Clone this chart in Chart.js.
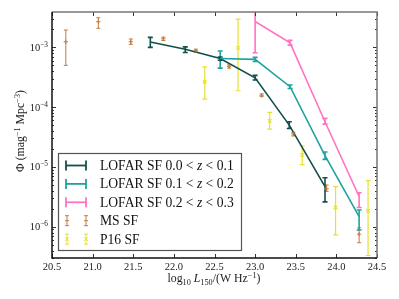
<!DOCTYPE html>
<html>
<head>
<meta charset="utf-8">
<script src="https://cdn.jsdelivr.net/npm/chart.js@4.4.1/dist/chart.umd.min.js"></script>
<style>
  html, body { margin: 0; padding: 0; background: #fff; }
  canvas { display: block; }
</style>
</head>
<body>
<canvas id="lf" width="399" height="299"></canvas>
<script>
// LOFAR SF luminosity functions
const lofar0X = [21.71, 22.14, 22.57, 23.0, 23.42, 23.86];
const lofar0Y = [1.23e-3, 9.3e-4, 6.5e-4, 3.1e-4, 5.0e-5, 4.7e-6];
const lofar0Lo = [1.0e-3, 8.2e-4, 6.1e-4, 2.85e-4, 4.4e-5, 2.6e-6];
const lofar0Hi = [1.47e-3, 1.02e-3, 6.9e-4, 3.4e-4, 5.7e-5, 6.6e-6];

const lofar1X = [22.57, 23.0, 23.43, 23.86, 24.28];
const lofar1Y = [6.5e-4, 6.3e-4, 2.2e-4, 1.54e-5, 1.47e-6];
const lofar1Lo = [4.5e-4, 5.8e-4, 2.05e-4, 1.34e-5, 8.8e-7];
const lofar1Hi = [8.7e-4, 6.8e-4, 2.35e-4, 1.78e-5, 1.9e-6];

const lofar2X = [23.0, 23.43, 23.86, 24.28];
const lofar2Y = [2.7e-3, 1.19e-3, 5.7e-5, 3.2e-6];
const lofar2Lo = [8.1e-4, 1.09e-3, 5.2e-5, 2.1e-6];
const lofar2Hi = [5.0e-3, 1.31e-3, 6.5e-5, 3.7e-6];

// comparison samples
const msX = [20.67, 21.07, 21.47, 21.87, 22.27, 22.68, 23.08, 23.47, 23.88, 24.28];
const msY = [1.24e-3, 2.68e-3, 1.24e-3, 1.39e-3, 8.8e-4, 4.8e-4, 1.58e-4, 3.55e-5, 4.3e-6, 7.5e-7];
const msLo = [5.0e-4, 2.08e-3, 1.12e-3, 1.30e-3, 8.3e-4, 4.5e-4, 1.5e-4, 3.3e-5, 3.9e-6, 5.4e-7];
const msHi = [1.95e-3, 3.13e-3, 1.38e-3, 1.48e-3, 9.3e-4, 5.1e-4, 1.66e-4, 3.8e-5, 5.0e-6, 9.6e-7];

const p16X = [22.38, 22.79, 23.18, 23.58, 23.99, 24.39];
const p16Y = [2.66e-4, 9.8e-4, 5.9e-5, 1.58e-5, 2.1e-6, 1.85e-6];
const p16Lo = [1.36e-4, 1.88e-4, 4.3e-5, 1.09e-5, 7.3e-7, 3.3e-7];
const p16Hi = [4.7e-4, 2.97e-3, 8.2e-5, 2.24e-5, 4.7e-6, 5.9e-6];

const xTicks = [20.5, 21.0, 21.5, 22.0, 22.5, 23.0, 23.5, 24.0, 24.5];
const yDecades = [-3, -4, -5, -6];

const legendRows = [
  { label: ['LOFAR SF 0.0 < ', 'z', ' < 0.1'], kind: 'lofar', color: '#114f4b' },
  { label: ['LOFAR SF 0.1 < ', 'z', ' < 0.2'], kind: 'lofar', color: '#1fa39e' },
  { label: ['LOFAR SF 0.2 < ', 'z', ' < 0.3'], kind: 'lofar', color: '#ff73c0' },
  { label: ['MS SF'], kind: 'ms', color: '#c27b40' },
  { label: ['P16 SF'], kind: 'p16', color: '#e8e033' }
];

const SERIF = '"Liberation Serif", "DejaVu Serif", serif';

const pts = (xs, ys) => xs.map((x, i) => ({ x: x, y: ys[i] }));

const errSets = [
  { xs: msX, lo: msLo, hi: msHi, color: '#c27b40', cap: 2, lw: 1 },
  { xs: p16X, lo: p16Lo, hi: p16Hi, color: '#e8e033', cap: 2.5, lw: 1.2 },
  { xs: lofar2X, lo: lofar2Lo, hi: lofar2Hi, color: '#ff73c0', cap: 2.5, lw: 1.6 },
  { xs: lofar1X, lo: lofar1Lo, hi: lofar1Hi, color: '#1fa39e', cap: 2.5, lw: 1.6 },
  { xs: lofar0X, lo: lofar0Lo, hi: lofar0Hi, color: '#114f4b', cap: 2.5, lw: 1.6 }
];

// draws a list of text pieces: {t, it, sup, sub}
function richWidth(ctx, parts, size) {
  let w = 0;
  parts.forEach(p => {
    const s = (p.sup || p.sub) ? size * 0.7 : size;
    ctx.font = (p.it ? 'italic ' : '') + s + 'px ' + SERIF;
    w += ctx.measureText(p.t).width;
  });
  return w;
}
function richDraw(ctx, parts, x, y, size) {
  parts.forEach(p => {
    const s = (p.sup || p.sub) ? size * 0.7 : size;
    ctx.font = (p.it ? 'italic ' : '') + s + 'px ' + SERIF;
    let dy = 0;
    if (p.sup) dy = -size * 0.38;
    if (p.sub) dy = size * 0.22;
    ctx.fillText(p.t, x, y + dy);
    x += ctx.measureText(p.t).width;
  });
}

function vbar(ctx, x, y1, y2, cap) {
  ctx.beginPath();
  ctx.moveTo(x, y1); ctx.lineTo(x, y2);
  ctx.moveTo(x - cap, y1); ctx.lineTo(x + cap, y1);
  ctx.moveTo(x - cap, y2); ctx.lineTo(x + cap, y2);
  ctx.stroke();
}

const errorBars = {
  id: 'errorBars',
  beforeDatasetsDraw(chart) {
    const ctx = chart.ctx, xs = chart.scales.x, ys = chart.scales.y, a = chart.chartArea;
    ctx.save();
    ctx.beginPath();
    ctx.rect(a.left, a.top, a.right - a.left, a.bottom - a.top);
    ctx.clip();
    errSets.forEach(s => {
      ctx.strokeStyle = s.color;
      ctx.lineWidth = s.lw;
      s.xs.forEach((x, i) => {
        const px = xs.getPixelForValue(x);
        vbar(ctx, px, ys.getPixelForValue(s.hi[i]), ys.getPixelForValue(s.lo[i]), s.cap);
      });
    });
    ctx.restore();
  }
};

const frame = {
  id: 'frame',
  afterDraw(chart) {
    const ctx = chart.ctx, xs = chart.scales.x, ys = chart.scales.y, a = chart.chartArea;
    ctx.save();
    // ticks pointing inward
    ctx.strokeStyle = '#333';
    ctx.lineWidth = 1;
    ctx.beginPath();
    xTicks.forEach(v => {
      const px = Math.round(xs.getPixelForValue(v)) + 0.5;
      ctx.moveTo(px, a.bottom); ctx.lineTo(px, a.bottom - 4);
      ctx.moveTo(px, a.top); ctx.lineTo(px, a.top + 4);
    });
    for (let d = -7; d <= -2; d++) {
      for (let m = 1; m <= 9; m++) {
        const v = m * Math.pow(10, d);
        if (v < ys.min || v > ys.max) continue;
        const py = Math.round(ys.getPixelForValue(v)) + 0.5;
        const len = m === 1 ? 4 : 2;
        ctx.moveTo(a.left, py); ctx.lineTo(a.left + len, py);
        ctx.moveTo(a.right, py); ctx.lineTo(a.right - len, py);
      }
    }
    ctx.stroke();
    // spines
    ctx.lineWidth = 1.5;
    ctx.strokeStyle = '#777';
    ctx.beginPath();
    ctx.moveTo(a.left, a.top); ctx.lineTo(a.right, a.top); ctx.lineTo(a.right, a.bottom);
    ctx.stroke();
    ctx.strokeStyle = '#111';
    ctx.beginPath();
    ctx.moveTo(a.left, a.top); ctx.lineTo(a.left, a.bottom); ctx.lineTo(a.right, a.bottom);
    ctx.stroke();

    // tick labels
    ctx.fillStyle = '#222';
    ctx.textBaseline = 'alphabetic';
    ctx.font = '10.5px ' + SERIF;
    ctx.textAlign = 'center';
    xTicks.forEach(v => ctx.fillText(v.toFixed(1), xs.getPixelForValue(v), 270));
    ctx.textAlign = 'left';
    yDecades.forEach(d => {
      const parts = [{ t: '10' }, { t: '\u2212' + (-d), sup: true }];
      const w = richWidth(ctx, parts, 10.5);
      richDraw(ctx, parts, a.left - 4 - w, ys.getPixelForValue(Math.pow(10, d)) + 3.5, 10.5);
    });

    // axis titles
    const xt = [{ t: 'log' }, { t: '10', sub: true }, { t: ' ' }, { t: 'L', it: true }, { t: '150', sub: true },
      { t: '/(W Hz' }, { t: '\u22121', sup: true }, { t: ')' }];
    const xw = richWidth(ctx, xt, 11.8);
    richDraw(ctx, xt, 214 - xw / 2, 282, 11.8);

    const yt = [{ t: '\u03a6 (mag' }, { t: '\u22121', sup: true }, { t: ' Mpc' }, { t: '\u22123', sup: true }, { t: ')' }];
    ctx.save();
    ctx.translate(24, 131);
    ctx.rotate(-Math.PI / 2);
    const yw = richWidth(ctx, yt, 11.8);
    richDraw(ctx, yt, -yw / 2, 0, 11.8);
    ctx.restore();

    // legend
    const L = 58.5, T = 153.5, R = 241.5, B = 250.5;
    ctx.fillStyle = 'rgba(255,255,255,0.85)';
    ctx.fillRect(L, T, R - L, B - T);
    ctx.strokeStyle = '#555';
    ctx.lineWidth = 1.2;
    ctx.strokeRect(L, T, R - L, B - T);
    legendRows.forEach((r, i) => {
      const cy = 165.5 + i * 18.4;
      ctx.strokeStyle = r.color;
      if (r.kind === 'lofar') {
        ctx.lineWidth = 1.8;
        ctx.beginPath();
        ctx.moveTo(66, cy); ctx.lineTo(86, cy);
        ctx.stroke();
        vbar(ctx, 66, cy - 5, cy + 5, 0);
        vbar(ctx, 86, cy - 5, cy + 5, 0);
      } else {
        ctx.lineWidth = 1;
        [67, 86].forEach(x => {
          vbar(ctx, x, cy - 5, cy + 5, 2);
          ctx.beginPath();
          if (r.kind === 'ms') {
            ctx.moveTo(x - 2, cy); ctx.lineTo(x + 2, cy);
          } else {
            ctx.moveTo(x - 2, cy - 2); ctx.lineTo(x + 2, cy + 2);
            ctx.moveTo(x - 2, cy + 2); ctx.lineTo(x + 2, cy - 2);
          }
          ctx.stroke();
        });
      }
      ctx.fillStyle = '#111';
      const parts = r.label.map(t => ({ t: t, it: t === 'z' }));
      richDraw(ctx, parts, 100, cy + 4.5, 13.6);
    });
    ctx.restore();
  }
};

new Chart(document.getElementById('lf'), {
  type: 'scatter',
  data: {
    datasets: [
      { data: pts(msX, msY), borderColor: '#c27b40', backgroundColor: '#c27b40',
        pointStyle: 'cross', pointRadius: 2.2, borderWidth: 1, showLine: false },
      { data: pts(p16X, p16Y), borderColor: '#e8e033', backgroundColor: '#e8e033',
        pointStyle: 'crossRot', pointRadius: 2.5, borderWidth: 1.2, showLine: false },
      { data: pts(lofar2X, lofar2Y), borderColor: '#ff73c0', borderWidth: 1.6,
        showLine: true, pointRadius: 0, tension: 0 },
      { data: pts(lofar1X, lofar1Y), borderColor: '#1fa39e', borderWidth: 1.6,
        showLine: true, pointRadius: 0, tension: 0 },
      { data: pts(lofar0X, lofar0Y), borderColor: '#114f4b', borderWidth: 1.6,
        showLine: true, pointRadius: 0, tension: 0 }
    ]
  },
  options: {
    responsive: false,
    animation: false,
    devicePixelRatio: 1,
    layout: { padding: { top: 12, right: 22, left: 0, bottom: 0 } },
    plugins: { legend: { display: false }, tooltip: { enabled: false } },
    scales: {
      x: {
        type: 'linear', min: 20.5, max: 24.5,
        grid: { display: false }, border: { display: false },
        ticks: { display: false },
        afterFit: s => { s.height = 41; }
      },
      y: {
        type: 'logarithmic', min: 3.0e-7, max: 3.9e-3,
        grid: { display: false }, border: { display: false },
        ticks: { display: false },
        afterFit: s => { s.width = 52; }
      }
    }
  },
  plugins: [errorBars, frame]
});
</script>
</body>
</html>
